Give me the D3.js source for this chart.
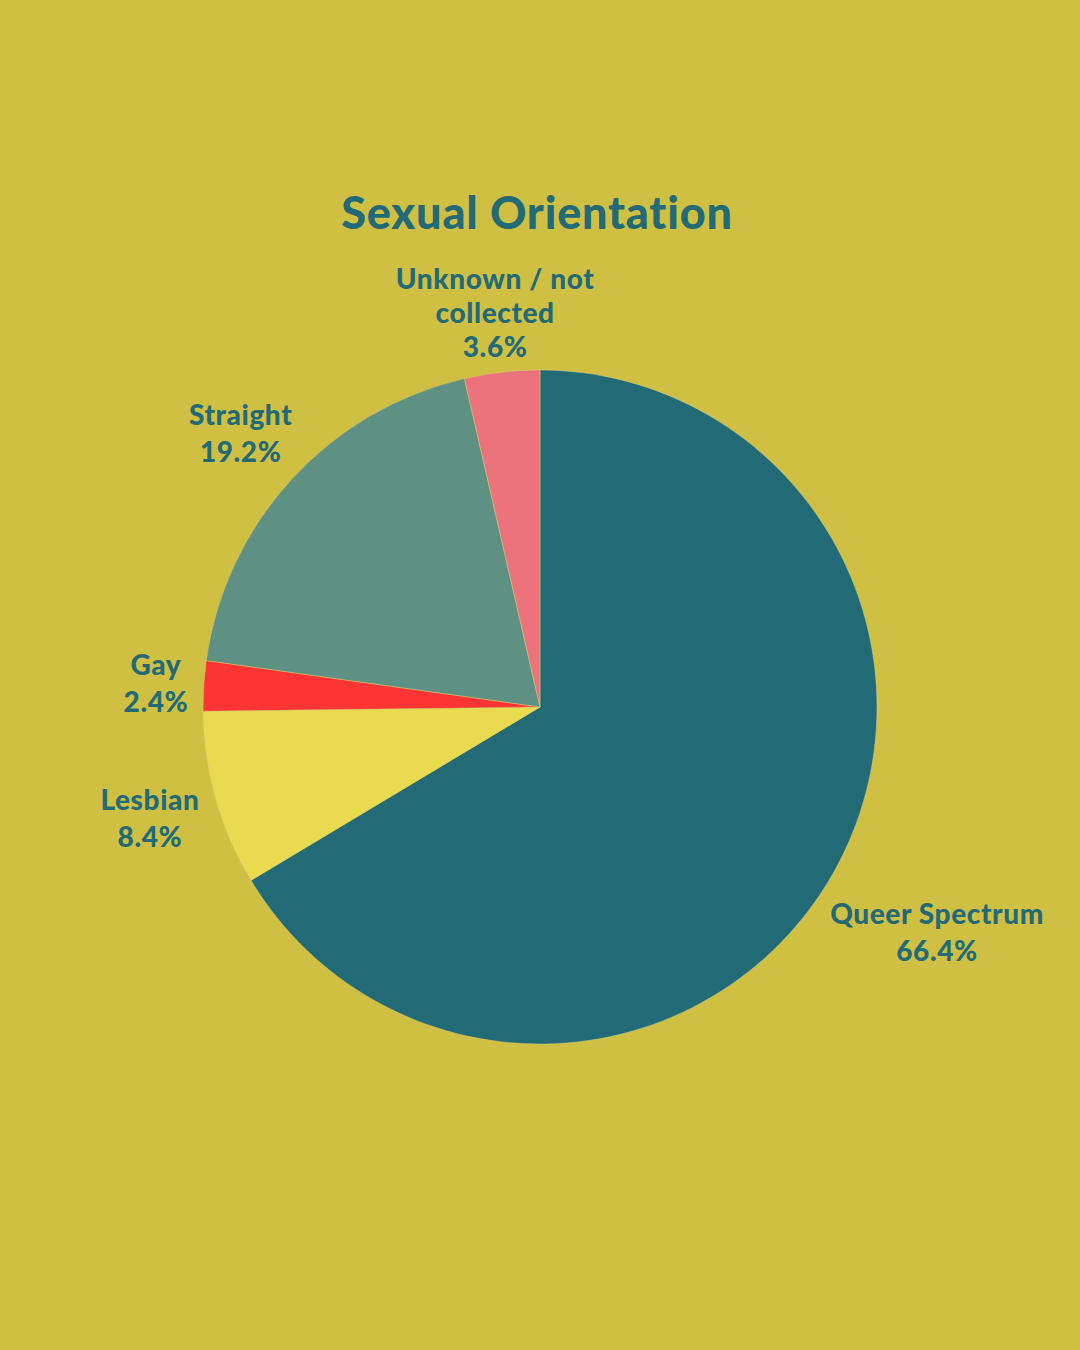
<!DOCTYPE html>
<html>
<head>
<meta charset="utf-8">
<script src="https://cdn.jsdelivr.net/npm/d3@7/dist/d3.min.js"></script>
<style>
  html, body { margin: 0; padding: 0; background: #cfc044; }
  svg { display: block; }
  text { font-family: Lato, "Open Sans", sans-serif; font-weight: 900; fill: #236a77; }
</style>
</head>
<body>
<script>
const categories = ["Queer Spectrum", "Lesbian", "Gay", "Straight", "Unknown / not collected"];
const values = [66.4, 8.4, 2.4, 19.2, 3.6];
const colors = ["#226a76", "#e9da50", "#fd3434", "#5e9183", "#ec737b"];
const title = "Sexual Orientation";

const W = 1080, H = 1350;
const cx = 540, cy = 707, R = 337;

const svg = d3.select("body").append("svg").attr("width", W).attr("height", H);
svg.append("rect").attr("width", W).attr("height", H).attr("fill", "#cfc044");

svg.append("text").attr("x", 537).attr("y", 229).attr("text-anchor", "middle")
  .style("font-size", "45px").style("letter-spacing", "0.8px").text(title);

const data = categories.map((c, i) => ({ name: c, value: values[i], color: colors[i] }));
const pie = d3.pie().value(d => d.value).sort(null);
const arc = d3.arc().innerRadius(0).outerRadius(R);
const arcs = pie(data);

const g = svg.append("g").attr("transform", `translate(${cx},${cy})`);
g.selectAll("path").data(arcs).join("path")
  .attr("d", arc).attr("fill", d => d.data.color)
  .attr("stroke", "#d8cf7a").attr("stroke-width", 0.8).attr("stroke-opacity", 0.6);

const fs = 28, lh = 37, gap = 14;
arcs.forEach(a => {
  const t = g.append("text").attr("text-anchor", "middle")
    .style("font-size", fs + "px").style("letter-spacing", "0.6px");
  const words = a.data.name.split(" ");
  const lines = [];
  let cur = "";
  const probe = g.append("text").style("font-size", fs + "px").style("letter-spacing", "0.6px");
  words.forEach(w => {
    const test = cur ? cur + " " + w : w;
    probe.text(test);
    if (probe.node().getComputedTextLength() > 225 && cur) { lines.push(cur); cur = w; }
    else cur = test;
  });
  lines.push(cur);
  probe.remove();
  lines.push(d3.format(".1f")(a.data.value) + "%");
  const step = lines.length > 2 ? 34 : lh;
  lines.forEach((l, i) => {
    t.append("tspan").attr("x", 0).attr("y", i * step).text(l);
  });
  const bb = t.node().getBBox();
  const mid = (a.startAngle + a.endAngle) / 2;
  const s = Math.sin(mid), c = -Math.cos(mid);
  const hw = bb.width / 2, hh = bb.height / 2;
  const r = R + gap + hw * Math.abs(s) + 0.7 * hh * Math.abs(c);
  const bx = bb.x + hw, by = bb.y + hh;
  t.attr("transform", `translate(${r * s - bx},${r * c - by})`);
});
</script>
</body>
</html>
